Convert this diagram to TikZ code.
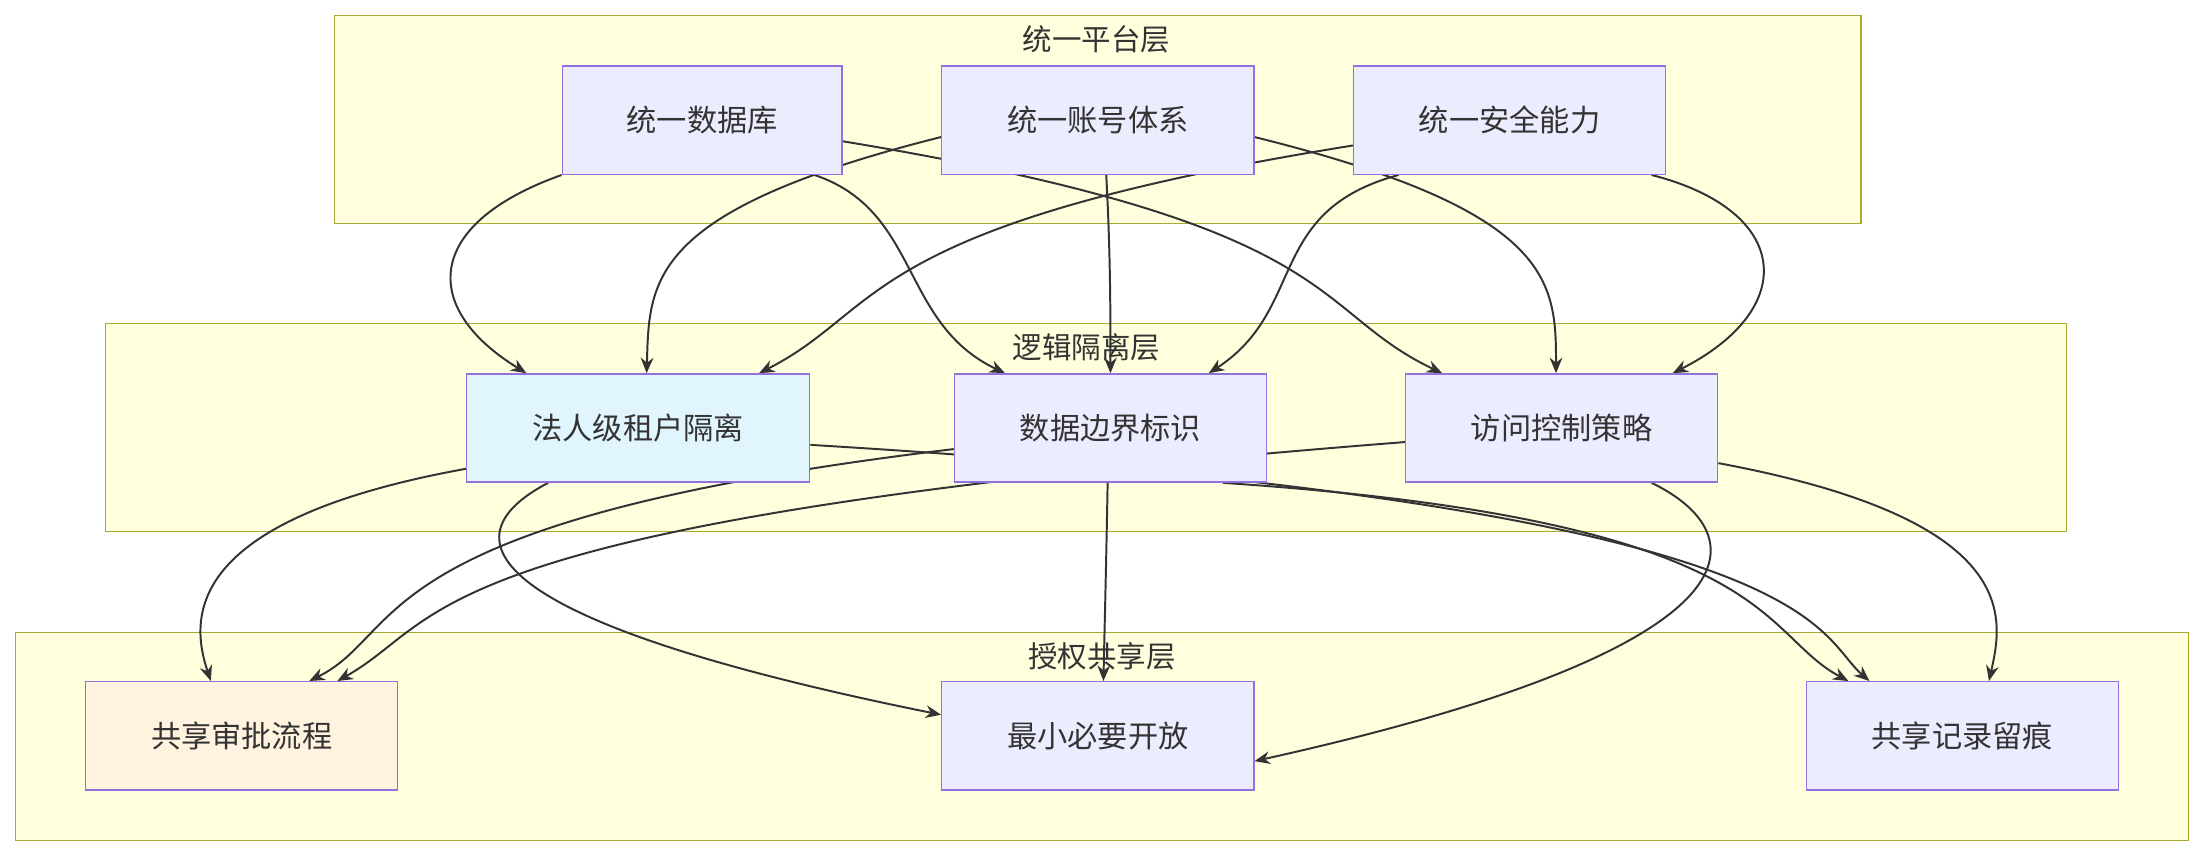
\documentclass[tikz,border=0pt]{standalone}
\usepackage{fontspec}
\newfontfamily\cjk{Noto Sans CJK SC}
\usetikzlibrary{arrows.meta}
\definecolor{clfill}{HTML}{FFFFDE}
\definecolor{cldraw}{HTML}{AAAA33}
\definecolor{nfill}{HTML}{ECECFF}
\definecolor{ndraw}{HTML}{9370DB}
\definecolor{ecol}{HTML}{333333}
\definecolor{bluefill}{HTML}{E1F5FE}
\definecolor{orangefill}{HTML}{FFF3E0}
\pgfdeclarelayer{bg}
\pgfdeclarelayer{edges}
\pgfsetlayers{bg,edges,main}
\begin{document}
\begin{tikzpicture}[x=1pt,y=-1pt,
  cl/.style={draw=cldraw,fill=clfill,line width=1pt},
  cltext/.style={font=\cjk\fontsize{21}{25}\selectfont,text=ecol},
  nd/.style={draw=ndraw,fill=nfill,line width=1pt,minimum width=222pt,minimum height=77pt,font=\cjk\fontsize{21.5}{25}\selectfont,text=ecol,inner sep=0pt},
  e/.style={draw=ecol,line width=1.4pt,-{Stealth[length=11pt,width=9pt]}}]
\useasboundingbox (0,0) rectangle (1568,609);
\begin{pgfonlayer}{bg}
\fill[white] (0,0) rectangle (1568,609);
\draw[cl] (238,11) rectangle (1324,159);
\draw[cl] (75,230) rectangle (1470,378);
\draw[cl] (11,450) rectangle (1557,598);
\end{pgfonlayer}
\node[cltext] (L1) at (780,28) {统一平台层};
\node[cltext] (L2) at (773,247) {逻辑隔离层};
\node[cltext] (L3) at (784,467) {授权共享层};
% nodes
\node[nd,minimum width=199pt] (A1) at (499.5,85.5) {统一数据库};
\node[nd] (A2) at (781,85.5) {统一账号体系};
\node[nd] (A3) at (1074,85.5) {统一安全能力};
\node[nd,minimum width=244pt,fill=bluefill] (B1) at (454,304.5) {法人级租户隔离};
\node[nd] (B2) at (790,304.5) {数据边界标识};
\node[nd] (B3) at (1111,304.5) {访问控制策略};
\node[nd,fill=orangefill] (C1) at (172,523.5) {共享审批流程};
\node[nd] (C2) at (781,523.5) {最小必要开放};
\node[nd] (C3) at (1396,523.5) {共享记录留痕};
\begin{pgfonlayer}{edges}
\draw[e] (A1.south west) .. controls (300,160) and (300,220) .. ([xshift=43]B1.north west);
\draw[e] ([xshift=80]A1.south) .. controls (655,150) and (640,230) .. ([xshift=-75]B2.north);
\draw[e] ([yshift=-15]A1.east) .. controls (960,160) and (930,220) .. ([xshift=-85]B3.north);
\draw[e] ([yshift=-12]A2.west) .. controls (460,150) and (462,200) .. ([xshift=6]B1.north);
\draw[e] ([xshift=6]A2.south) .. controls (790,180) and (790,220) .. (B2.north);
\draw[e] ([yshift=-12]A2.east) .. controls (1105,150) and (1107,200) .. ([xshift=-4]B3.north);
\draw[e] ([yshift=-18]A3.west) .. controls (610,160) and (630,220) .. ([xshift=86]B1.north);
\draw[e] ([xshift=-79]A3.south) .. controls (900,150) and (930,220) .. ([xshift=70]B2.north);
\draw[e] ([xshift=101]A3.south) .. controls (1275,150) and (1280,220) .. ([xshift=79]B3.north);
\draw[e] ([yshift=10]B1.south west) .. controls (130,370) and (135,440) .. ([xshift=-22]C1.north);
\draw[e] ([xshift=-64]B1.south) .. controls (320,380) and (330,440) .. ([yshift=15]C2.west);
\draw[e] ([yshift=-12]B1.east) .. controls (1300,360) and (1290,450) .. ([xshift=-66]C3.north);
\draw[e] ([yshift=-15]B2.west) .. controls (255,370) and (290,450) .. ([xshift=48]C1.north);
\draw[e] ([xshift=-2]B2.south) .. controls (787,400) and (786,440) .. ([xshift=4]C2.north);
\draw[e] ([xshift=80]B2.south) .. controls (1265,370) and (1250,450) .. ([xshift=-81]C3.north);
\draw[e] ([yshift=-10]B3.west) .. controls (290,370) and (320,440) .. ([xshift=68]C1.north);
\draw[e] ([xshift=64]B3.south) .. controls (1250,380) and (1260,460) .. ([yshift=-18]C2.east);
\draw[e] ([yshift=-25]B3.east) .. controls (1440,370) and (1425,440) .. ([xshift=19]C3.north);
\end{pgfonlayer}
\end{tikzpicture}
\end{document}
